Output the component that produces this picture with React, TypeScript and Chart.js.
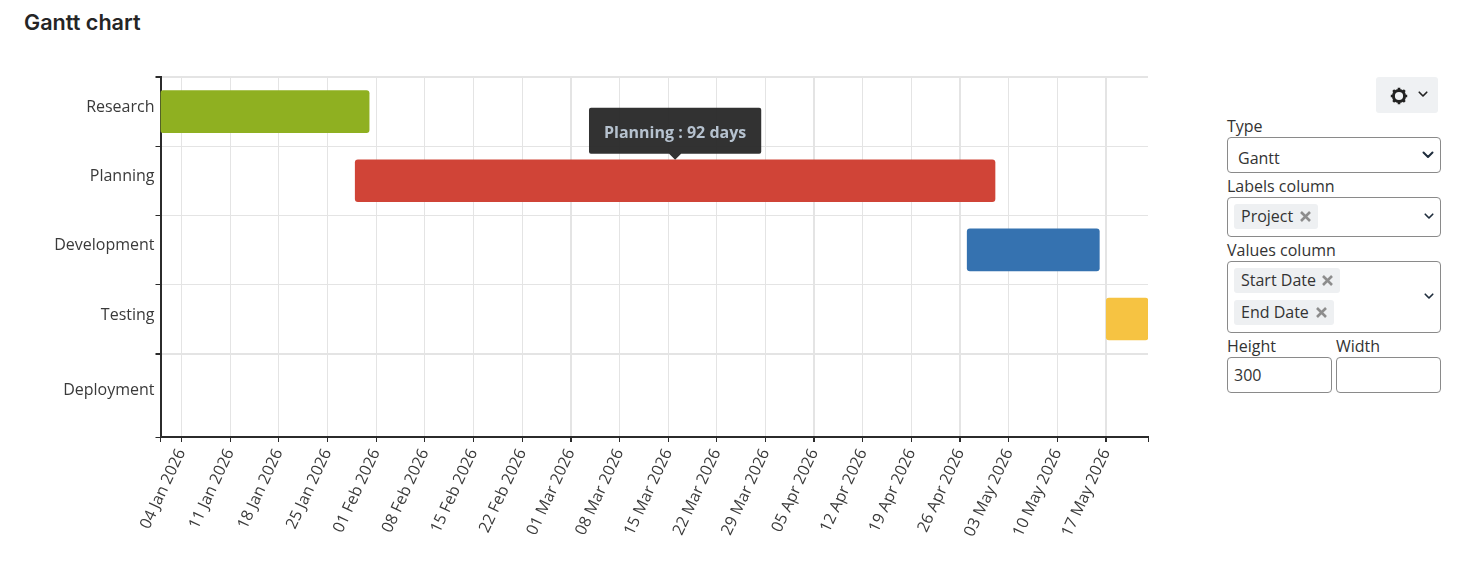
import React, { useEffect, useRef } from "react";
import { Chart, registerables, Tooltip } from "chart.js";

Chart.register(...registerables);

const categories = ["Research", "Planning", "Development", "Testing", "Deployment"];
const bandCentres = [0.5, 1.5, 2.5, 3.5, 4.59];
const bandEdges = [0, 1, 2, 3, 4, 5.206];
const startDates = ["2026-01-01", "2026-01-29", "2026-04-27", "2026-05-17"];
const endDates = ["2026-01-31", "2026-05-01", "2026-05-16", "2026-05-23"];
const barColors = ["#8fb021", "#d04437", "#3572b0", "#f6c342"];
const axisMin = "2026-01-01";
const axisMax = "2026-05-23";
const dateTicks = [
  "04 Jan 2026", "11 Jan 2026", "18 Jan 2026", "25 Jan 2026", "01 Feb 2026", "08 Feb 2026",
  "15 Feb 2026", "22 Feb 2026", "01 Mar 2026", "08 Mar 2026", "15 Mar 2026", "22 Mar 2026",
  "29 Mar 2026", "05 Apr 2026", "12 Apr 2026", "19 Apr 2026", "26 Apr 2026", "03 May 2026",
  "10 May 2026", "17 May 2026",
];
const heavyGridTicks = ["01 Mar 2026", "05 Apr 2026", "26 Apr 2026", "17 May 2026"];
const tooltipText = "Planning : 92 days";

const ms = (s: string) => Date.parse(s + (s.includes("-") ? "T00:00:00Z" : " UTC"));
const FONT = "'Open Sans', 'Noto Sans', sans-serif";
const INK = "#2b2b2b";
const GRID = "#e4e4e4";

(Tooltip.positioners as any).barTop = (items: any[]) => {
  if (!items.length) return false;
  const el = items[0].element;
  return { x: (el.x + el.base) / 2, y: el.y - el.height / 2 };
};

function GanttChart() {
  const ref = useRef<HTMLCanvasElement>(null);
  useEffect(() => {
    const tickValues = dateTicks.map(ms);
    const labelByValue = new Map(tickValues.map((v, i) => [v, dateTicks[i]]));
    const heavy = new Set(heavyGridTicks.map(ms));
    const min = ms(axisMin);
    const max = ms(axisMax);
    const chart = new Chart(ref.current!, {
      type: "bar",
      data: {
        datasets: [
          {
            data: startDates.map((s, i) => ({ x: [ms(s), ms(endDates[i])], y: bandCentres[i] })) as any,
            backgroundColor: barColors,
            borderRadius: 3,
            borderSkipped: false,
            barThickness: 42,
          },
        ],
      },
      options: {
        indexAxis: "y",
        animation: false,
        responsive: false,
        events: [],
        layout: { padding: { left: 0, top: 77, right: 52, bottom: 0 } },
        scales: {
          x: {
            type: "linear",
            min,
            max,
            afterBuildTicks: (s: any) => {
              s.ticks = [min, ...tickValues, max].map((value) => ({ value }));
            },
            afterFit: (s: any) => {
              s.height = 138;
            },
            border: { color: INK, width: 2 },
            grid: {
              color: (c: any) => (labelByValue.has(c.tick?.value) ? GRID : "rgba(0,0,0,0)"),
              lineWidth: (c: any) => (heavy.has(c.tick?.value) ? 2 : 1),
              tickColor: INK,
              tickLength: 5,
            },
            ticks: {
              autoSkip: false,
              minRotation: 65,
              maxRotation: 65,
              padding: 4,
              color: "#3a3a3a",
              font: { family: FONT, size: 16 },
              callback: (v: any) => labelByValue.get(v) ?? "",
            },
          },
          y: {
            type: "linear",
            reverse: true,
            offset: false,
            min: bandEdges[0],
            max: bandEdges[bandEdges.length - 1],
            afterBuildTicks: (s: any) => {
              s.ticks = [...bandEdges, ...bandCentres].sort((a, b) => a - b).map((value) => ({ value }));
            },
            afterFit: (s: any) => {
              s.width = 160.5;
            },
            border: { color: INK, width: 2 },
            grid: {
              offset: false,
              color: (c: any) => (bandEdges.includes(c.tick?.value) ? GRID : "rgba(0,0,0,0)"),
              lineWidth: (c: any) => (c.tick?.value === 0 || c.tick?.value === 4 ? 2 : 1),
              tickColor: (c: any) => (bandEdges.includes(c.tick?.value) ? INK : "rgba(0,0,0,0)"),
              tickLength: 5,
            },
            ticks: {
              autoSkip: false,
              padding: 1,
              labelOffset: -4,
              color: "#3a3a3a",
              font: { family: FONT, size: 16 },
              callback: (v: any) => {
                const i = bandCentres.indexOf(v);
                return i >= 0 ? categories[i] : "";
              },
            },
          },
        },
        plugins: {
          legend: { display: false },
          title: { display: false },
          tooltip: {
            enabled: true,
            position: "barTop" as any,
            yAlign: "bottom",
            xAlign: "center",
            backgroundColor: "rgba(42,42,42,0.96)",
            bodyColor: "#b6c2cf",
            bodyFont: { family: FONT, size: 16, weight: "bold", lineHeight: 1.25 },
            padding: { left: 15, right: 15, top: 16, bottom: 10 },
            cornerRadius: 2,
            caretSize: 6,
            caretPadding: 0,
            displayColors: false,
            callbacks: { title: () => "", label: () => tooltipText },
          },
        },
      },
    });
    chart.tooltip!.setActiveElements([{ datasetIndex: 0, index: 1 }], { x: 0, y: 0 });
    chart.update();
    return () => chart.destroy();
  }, []);
  return <canvas ref={ref} width={1200} height={575} style={{ position: "absolute", left: 0, top: 0 }} />;
}

const abs = (left: number, top: number, width?: number, height?: number): React.CSSProperties => ({
  position: "absolute", left, top, width, height, boxSizing: "border-box",
});
const labelStyle = (left: number, top: number): React.CSSProperties => ({
  ...abs(left, top), fontSize: 16, lineHeight: "20px", color: "#333", whiteSpace: "nowrap",
});
const boxStyle = (l: number, t: number, w: number, h: number): React.CSSProperties => ({
  ...abs(l, t, w, h), border: "1px solid #8a8a8a", borderRadius: 4, background: "#fff",
});

function Chevron({ x, y, color = "#1f2d3d", w = 12 }: { x: number; y: number; color?: string; w?: number }) {
  return (
    <svg style={abs(x, y, w, (w * 2) / 3)} viewBox="0 0 12 8">
      <path d="M1.5 1.5 L6 6 L10.5 1.5" fill="none" stroke={color} strokeWidth="2" strokeLinecap="round" strokeLinejoin="round" />
    </svg>
  );
}

function Chip({ x, y, w, text }: { x: number; y: number; w: number; text: string }) {
  return (
    <div style={{ ...abs(x, y, w, 25), background: "#eef0f2", borderRadius: 3, fontSize: 16, lineHeight: "25px", paddingLeft: 7, color: "#333", whiteSpace: "nowrap" }}>
      {text}
      <svg style={abs(w - 18, 7, 11, 11)} viewBox="0 0 11 11">
        <path d="M1 1 L10 10 M10 1 L1 10" stroke="#8d8d8d" strokeWidth="2.6" />
      </svg>
    </div>
  );
}

export default function App() {
  return (
    <div style={{ position: "absolute", left: 0, top: 0, width: 1482, height: 575, background: "#fff", overflow: "hidden", fontFamily: FONT }}>
      <div style={{ ...abs(24, 8), fontFamily: "Inter, sans-serif", fontWeight: 600, fontSize: 21.6, lineHeight: "28px", color: "#252525", whiteSpace: "nowrap" }}>Gantt chart</div>
      <GanttChart />

      <div style={{ ...abs(1376, 77, 62, 36), background: "#eff1f3", borderRadius: 3 }} />
      <svg style={abs(1390, 87, 18, 18)} viewBox="0 0 18 18">
        <circle cx="9" cy="9" r="5.6" fill="none" stroke="#222" strokeWidth="3" />
        <path d="M9 0.8 V3.4 M9 14.6 V17.2 M0.8 9 H3.4 M14.6 9 H17.2 M3.2 3.2 L5 5 M13 13 L14.8 14.8 M14.8 3.2 L13 5 M5 13 L3.2 14.8" stroke="#222" strokeWidth="2.6" />
      </svg>
      <Chevron x={1418} y={91} color="#222" w={10} />

      <div style={labelStyle(1227, 116)}>Type</div>
      <div style={boxStyle(1227, 137, 214, 36)} />
      <div style={{ ...labelStyle(1238, 148) }}>Gantt</div>
      <Chevron x={1422} y={151} />

      <div style={labelStyle(1227, 176)}>Labels column</div>
      <div style={boxStyle(1227, 197, 214, 40)} />
      <Chip x={1234} y={204} w={84} text="Project" />
      <Chevron x={1424} y={213} w={10} />

      <div style={labelStyle(1227, 240)}>Values column</div>
      <div style={boxStyle(1227, 261, 214, 72)} />
      <Chip x={1234} y={268} w={106} text="Start Date" />
      <Chip x={1234} y={300} w={100} text="End Date" />
      <Chevron x={1424} y={293} w={10} />

      <div style={labelStyle(1227, 336)}>Height</div>
      <div style={labelStyle(1336, 336)}>Width</div>
      <div style={boxStyle(1227, 357, 105, 36)} />
      <div style={labelStyle(1234, 365)}>300</div>
      <div style={boxStyle(1336, 357, 105, 36)} />
    </div>
  );
}
